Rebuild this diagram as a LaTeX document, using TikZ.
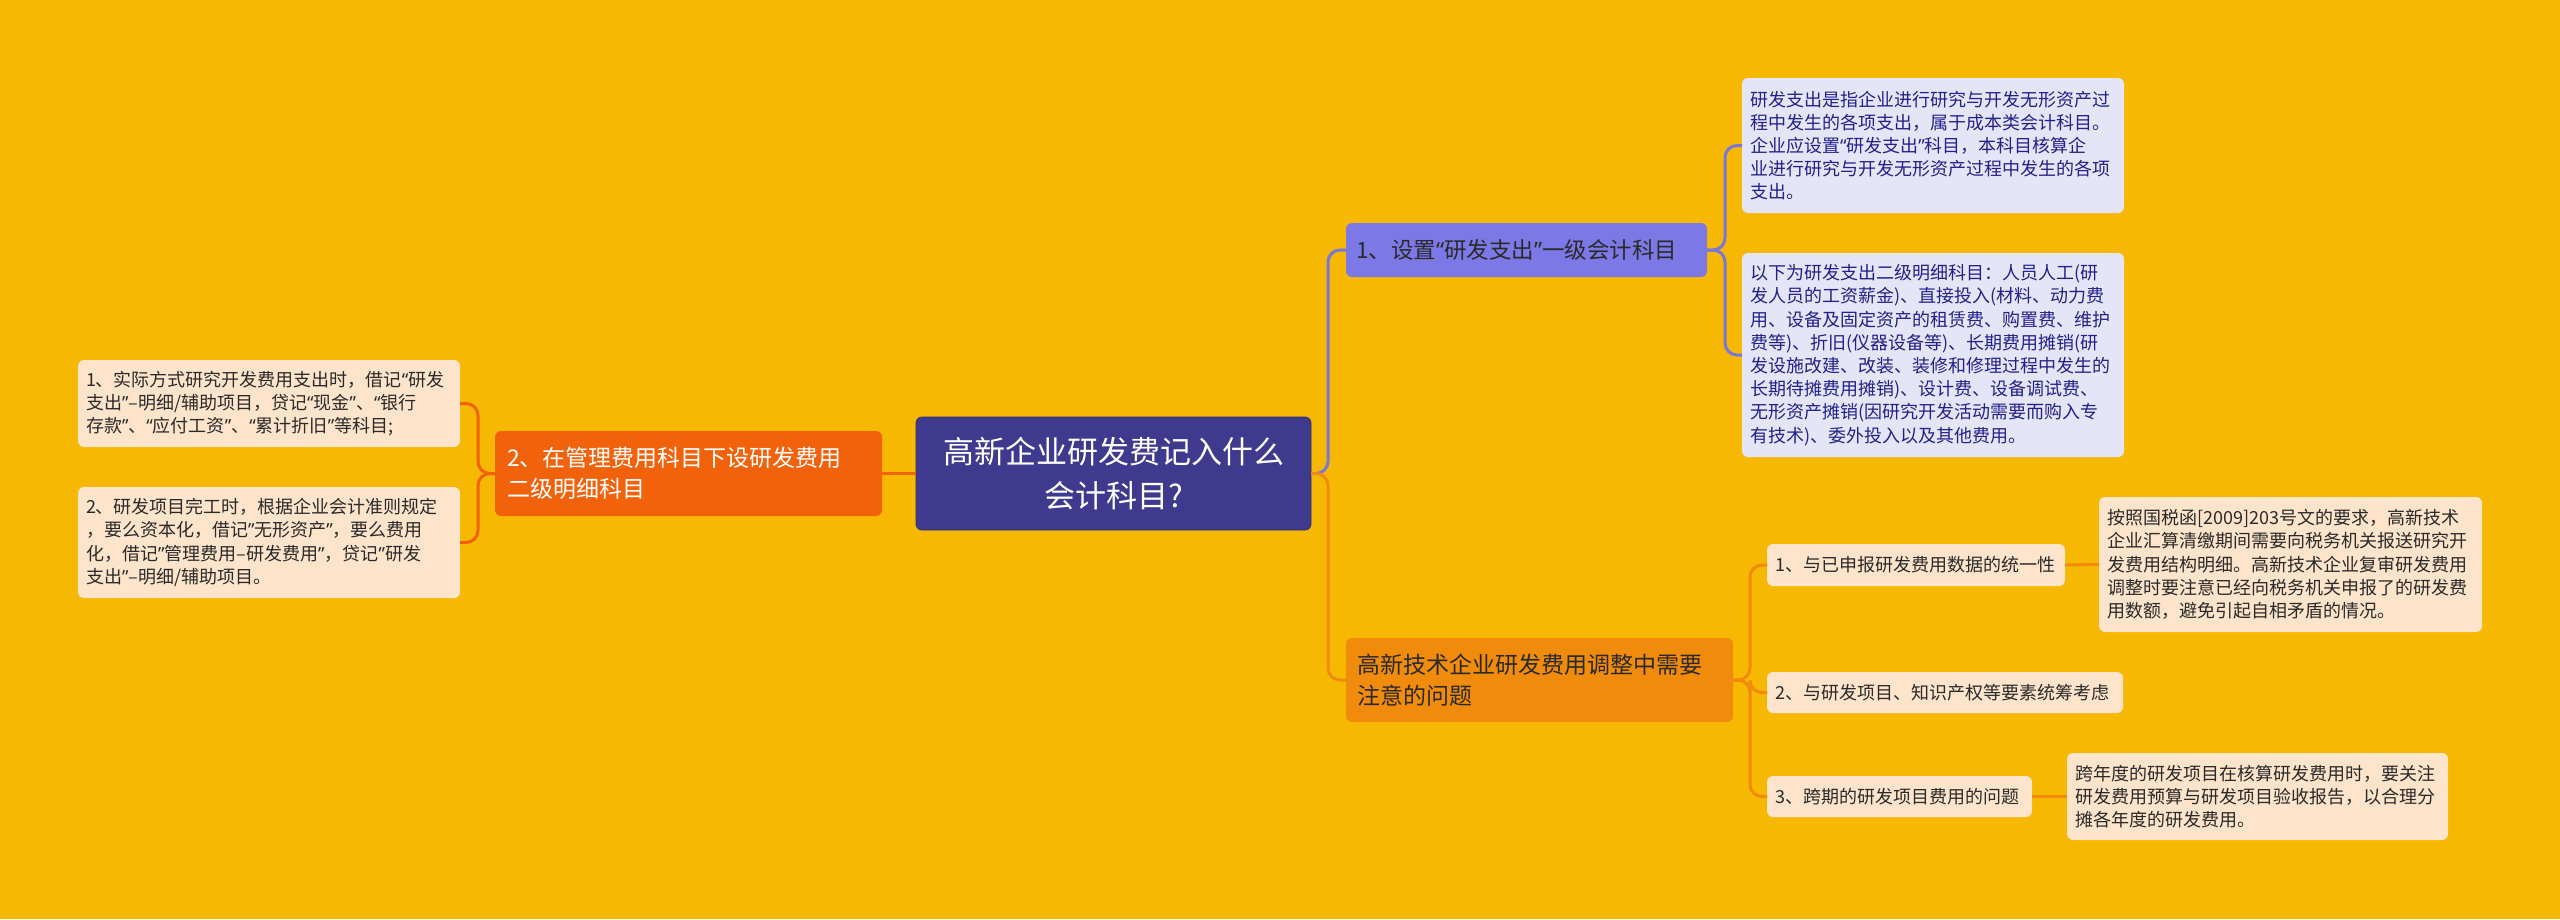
\documentclass[tikz,border=0pt]{standalone}
\usepackage{fontspec}
\setmainfont{Noto Sans CJK SC}
\newfontfamily\qfont{Noto Sans}
\newcommand\qL{{\qfont “}}
\newcommand\qR{{\qfont ”}}
\definecolor{bgc}{HTML}{F6B800}
\definecolor{rootc}{HTML}{3E3A8E}
\definecolor{purc}{HTML}{7C79E6}
\definecolor{purline}{HTML}{7B77D6}
\definecolor{lavc}{HTML}{E5E5F8}
\definecolor{navy}{HTML}{22228A}
\definecolor{orc}{HTML}{F08B0B}
\definecolor{redc}{HTML}{F2620B}
\definecolor{peach}{HTML}{FDE4CA}
\definecolor{txt}{HTML}{2A2A2A}
\begin{document}
\begin{tikzpicture}[x=1pt,y=-1pt,
  box/.style={rounded corners=6pt, inner ysep=0pt, inner xsep=8pt, outer sep=0pt},
  leaffont/.style={font=\fontsize{18}{23.2}\selectfont},
  lvfont/.style={font=\fontsize{23}{31.5}\selectfont},
  lavbox/.style={box, fill=lavc, text=navy, leaffont, align=left},
  peachbox/.style={box, fill=peach, text=txt, leaffont, align=left},
  peachone/.style={box, fill=peach, text=txt, leaffont, align=left},
  conP/.style={draw=purline, line width=3pt, rounded corners=12pt},
  conO/.style={draw=orc, line width=3pt, rounded corners=12pt},
  conR/.style={draw=redc, line width=3pt, rounded corners=12pt}]
\fill[bgc] (0,0) rectangle (2560,919);
\useasboundingbox (0,0) rectangle (2560,919);

% root
\node[box, fill=rootc, draw=rootc!80!black, line width=0.8pt, minimum width=395pt, minimum height=113pt,
  text=white, font=\fontsize{31}{44}\selectfont, align=center] (root) at (1113.5,473.5)
  {高新企业研发费记入什么\\会计科目?};

% right branch 1
\node[box, fill=purc, text=txt, font=\fontsize{22.5}{28}\selectfont, align=left, inner xsep=10pt, text width=341pt, minimum height=54pt] (b1) at (1526.5,250)
  {1、设置\qL 研发支出\qR 一级会计科目};
\node[lavbox, text width=366pt, minimum height=135pt] (a1) at (1933,145.5)
  {研发支出是指企业进行研究与开发无形资产过\\程中发生的各项支出，属于成本类会计科目。\\企业应设置\qL 研发支出\qR 科目，本科目核算企\\业进行研究与开发无形资产过程中发生的各项\\支出。};
\node[lavbox, text width=366pt, minimum height=204pt] (a2) at (1933,355)
  {以下为研发支出二级明细科目：人员人工(研\\发人员的工资薪金)、直接投入(材料、动力费\\用、设备及固定资产的租赁费、购置费、维护\\费等)、折旧(仪器设备等)、长期费用摊销(研\\发设施改建、改装、装修和修理过程中发生的\\长期待摊费用摊销)、设计费、设备调试费、\\无形资产摊销(因研究开发活动需要而购入专\\有技术)、委外投入以及其他费用。};

% right branch 2
\node[box, fill=orc, text=txt, lvfont, align=left, inner xsep=11pt, text width=365pt, minimum height=84pt] (b2) at (1539.5,680)
  {高新技术企业研发费用调整中需要\\注意的问题};
\node[peachone, text width=282pt, minimum height=42pt] (c1) at (1916,565)
  {1、与已申报研发费用数据的统一性};
\node[peachone, text width=340pt, minimum height=41pt] (c2) at (1945,692.5)
  {2、与研发项目、知识产权等要素统筹考虑};
\node[peachone, text width=249pt, minimum height=41pt] (c3) at (1899.5,796.5)
  {3、跨期的研发项目费用的问题};
\node[peachbox, text width=367pt, minimum height=135pt] (d1) at (2290.5,564.5)
  {按照国税函[2009]203号文的要求，高新技术\\企业汇算清缴期间需要向税务机关报送研究开\\发费用结构明细。高新技术企业复审研发费用\\调整时要注意已经向税务机关申报了的研发费\\用数额，避免引起自相矛盾的情况。};
\node[peachbox, text width=365pt, minimum height=87pt] (d3) at (2257.5,796.5)
  {跨年度的研发项目在核算研发费用时，要关注\\研发费用预算与研发项目验收报告，以合理分\\摊各年度的研发费用。};

% left branch
\node[box, fill=redc, text=white, lvfont, align=left, inner xsep=12pt, text width=363pt, minimum height=85pt] (lb) at (688.5,473.5)
  {2、在管理费用科目下设研发费用\\二级明细科目};
\node[peachbox, text width=366pt, minimum height=87pt] (l1) at (269,403.5)
  {\mbox{1、实际方式研究开发费用支出时，借记\qL 研发}\\\mbox{支出\qR –明细/辅助项目，贷记\qL 现金\qR 、\qL 银行}\\\mbox{存款\qR 、\qL 应付工资\qR 、\qL 累计折旧\qR 等科目;}};
\node[peachbox, text width=366pt, minimum height=111pt] (l2) at (269,542.5)
  {\mbox{2、研发项目完工时，根据企业会计准则规定}\\\mbox{，要么资本化，借记\qR 无形资产\qR ，要么费用}\\\mbox{化，借记\qR 管理费用–研发费用\qR ，贷记\qR 研发}\\\mbox{支出\qR –明细/辅助项目。}};

% connectors
\draw[conP] (root.east) -- ++(17,0) |- (b1.west);
\draw[conO] (root.east) -- ++(17,0) |- (b2.west);
\draw[conR] (root.west) -- (lb.east);
\draw[conR] (lb.west) -- ++(-17,0) |- (l1.east);
\draw[conR] (lb.west) -- ++(-17,0) |- (l2.east);
\draw[conP] (b1.east) -- ++(18,0) |- (a1.west);
\draw[conP] (b1.east) -- ++(18,0) |- (a2.west);
\draw[conO] (b2.east) -- ++(17,0) |- (c1.west);
\draw[conO] (b2.east) -- ++(17,0) |- (c2.west);
\draw[conO] (b2.east) -- ++(17,0) |- (c3.west);
\draw[conO] (c1.east) -- (d1.west);
\draw[conO] (c3.east) -- (d3.west);
\end{tikzpicture}
\end{document}
